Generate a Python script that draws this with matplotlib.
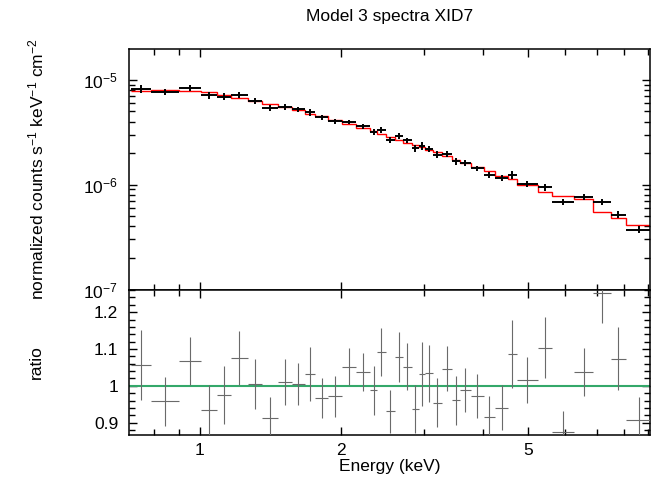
import numpy as np
import matplotlib
matplotlib.use("Agg")
import matplotlib.pyplot as plt
from matplotlib.ticker import FixedLocator, NullFormatter, FuncFormatter, LogLocator, MultipleLocator

plt.rcParams['font.family'] = ['Liberation Sans', 'DejaVu Sans']
plt.rcParams['mathtext.fontset'] = 'custom'
plt.rcParams['mathtext.rm'] = 'Liberation Sans'
plt.rcParams['mathtext.it'] = 'Liberation Sans:italic'

# -------------------------------
# dados
# -------------------------------
# limites dos bins de energia (keV)
bin_edges = [0.712, 0.785, 0.901, 1.005, 1.085, 1.164, 1.264, 1.356, 1.468, 1.568,
             1.673, 1.758, 1.878, 2.004, 2.149, 2.302, 2.386, 2.486, 2.602, 2.703,
             2.824, 2.928, 3.011, 3.130, 3.272, 3.437, 3.579, 3.774, 4.027, 4.249,
             4.536, 4.727, 5.254, 5.612, 6.270, 6.882, 7.496, 8.067, 9.165]

# fluxo normalizado (counts s^-1 keV^-1 cm^-2)
flux = [8.21e-6, 7.63e-6, 8.39e-6, 7.15e-6, 6.93e-6, 7.15e-6, 6.31e-6, 5.41e-6, 5.53e-6, 5.24e-6,
        4.92e-6, 4.41e-6, 4.04e-6, 3.98e-6, 3.59e-6, 3.18e-6, 3.32e-6, 2.67e-6, 2.91e-6, 2.64e-6,
        2.22e-6, 2.35e-6, 2.20e-6, 1.94e-6, 1.97e-6, 1.67e-6, 1.61e-6, 1.43e-6, 1.24e-6, 1.15e-6,
        1.24e-6, 1.016e-6, 9.42e-7, 6.84e-7, 7.63e-7, 6.89e-7, 5.18e-7, 3.73e-7]

# razão dados/modelo e erro
ratio = [1.056, 0.958, 1.067, 0.934, 0.976, 1.076, 1.005, 0.913, 1.010, 1.006,
         1.032, 0.967, 0.972, 1.052, 1.037, 0.988, 1.092, 0.931, 1.079, 1.052,
         0.937, 1.032, 1.034, 0.954, 1.046, 0.961, 0.989, 0.973, 0.916, 0.940,
         1.086, 1.016, 1.104, 0.876, 1.038, 1.253, 1.074, 0.907]
ratio_err = [0.095, 0.066, 0.065, 0.069, 0.079, 0.073, 0.069, 0.058, 0.062, 0.057,
             0.074, 0.053, 0.056, 0.050, 0.051, 0.066, 0.066, 0.058, 0.068, 0.063,
             0.064, 0.088, 0.077, 0.067, 0.061, 0.067, 0.059, 0.060, 0.057, 0.061,
             0.093, 0.063, 0.084, 0.057, 0.065, 0.082, 0.086, 0.064]

title = "Model 3 spectra XID7"

# -------------------------------
# grandezas derivadas
# -------------------------------
edges = np.array(bin_edges)
lo, hi = edges[:-1], edges[1:]
energy = np.sqrt(lo * hi)
flux = np.array(flux)
ratio = np.array(ratio)
ratio_err = np.array(ratio_err)
model = flux / ratio
flux_err = flux * ratio_err / ratio
xerr = [energy - lo, hi - energy]

# -------------------------------
# figura
# -------------------------------
W, H = 653, 479
fig = plt.figure(figsize=(W / 100, H / 100), dpi=100)
x0, x1 = 129.3, 650.0
ax_top = fig.add_axes([x0 / W, 1 - 289.5 / H, (x1 - x0) / W, (289.5 - 49) / H])
ax_rat = fig.add_axes([x0 / W, 1 - 435 / H, (x1 - x0) / W, (435 - 289.5) / H], sharex=ax_top)

fs = 12.5

# --- painel superior ---
ax_top.stairs(model, edges, baseline=None, color="red", lw=1.0, zorder=2)
ax_top.errorbar(energy, flux, xerr=xerr, yerr=flux_err, fmt="none",
                ecolor="black", elinewidth=1.4, capsize=0, zorder=3)
ax_top.set_xscale("log")
ax_top.set_yscale("log")
ax_top.set_xlim(0.707, 9.09)
ax_top.set_ylim(1e-7, 1.97e-5)
ax_top.yaxis.set_major_locator(FixedLocator([1e-7, 1e-6, 1e-5]))
ax_top.yaxis.set_minor_locator(LogLocator(base=10, subs=np.arange(2, 10)))
ax_top.yaxis.set_minor_formatter(NullFormatter())
ax_top.yaxis.set_major_formatter(
    FuncFormatter(lambda v, p: r"$10^{%d}$" % round(np.log10(v))))

# --- painel da razão ---
ax_rat.errorbar(energy, ratio, xerr=xerr, yerr=ratio_err, fmt="none",
                ecolor="#6a6a6a", elinewidth=0.8, capsize=0, zorder=3)
ax_rat.axhline(1.0, color="#34a86a", lw=1.5, zorder=2)
ax_rat.set_ylim(0.8665, 1.2616)
ax_rat.yaxis.set_major_locator(FixedLocator([0.9, 1.0, 1.1, 1.2]))
ax_rat.yaxis.set_minor_locator(MultipleLocator(0.02))
ax_rat.yaxis.set_major_formatter(FuncFormatter(lambda v, p: "%g" % round(v, 2)))

ax_rat.xaxis.set_major_locator(FixedLocator([1, 2, 5]))
ax_rat.xaxis.set_minor_locator(FixedLocator([0.8, 0.9, 3, 4, 6, 7, 8, 9]))
ax_rat.xaxis.set_major_formatter(FuncFormatter(lambda v, p: "%g" % v))
ax_rat.xaxis.set_minor_formatter(NullFormatter())

for ax in (ax_top, ax_rat):
    ax.tick_params(which="both", direction="in", top=True, right=True,
                   labelsize=fs, width=1.0, pad=8)
    ax.tick_params(which="major", length=6)
    ax.tick_params(which="minor", length=4)
    for s in ax.spines.values():
        s.set_linewidth(1.1)
ax_top.tick_params(axis="x", which="both", labelbottom=False)
ax_rat.tick_params(axis="x", which="both", pad=6)

fig.text((x0 + x1) / 2 / W, 1 - 466 / H, "Energy (keV)", ha="center", va="center", fontsize=fs)
fig.text(36 / W, 1 - 169 / H, r"normalized counts s$^{-1}$ keV$^{-1}$ cm$^{-2}$",
         rotation=90, ha="center", va="center", fontsize=fs)
fig.text(36 / W, 1 - 362 / H, "ratio", rotation=90, ha="center", va="center", fontsize=fs)
fig.text((x0 + x1) / 2 / W, 1 - 17 / H, title, ha="center", va="center", fontsize=fs)

fig.savefig("out.png", dpi=100)
